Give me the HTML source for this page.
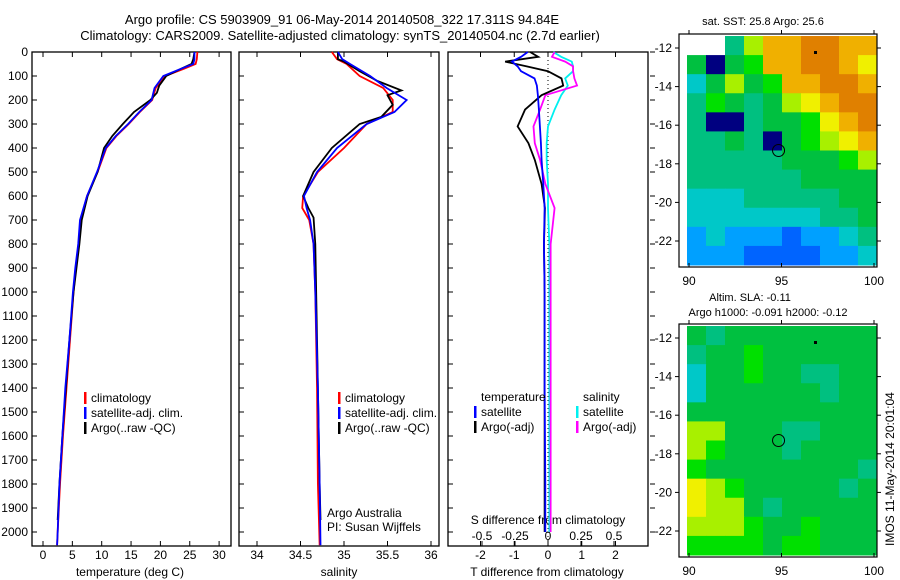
<!DOCTYPE html>
<html><head><meta charset="utf-8"><style>
body{margin:0;background:#fff}
svg{display:block;font-family:"Liberation Sans",sans-serif}
text{font-size:12px;fill:#000}
</style></head><body>
<svg id="c" width="900" height="580" viewBox="0 0 900 580">
<text x="342" y="24" text-anchor="middle" style="font-size:13px">Argo profile: CS 5903909_91 06-May-2014 20140508_322 17.311S 94.84E</text>
<text x="340" y="40" text-anchor="middle" style="font-size:13px">Climatology: CARS2009. Satellite-adjusted climatology: synTS_20140504.nc (2.7d earlier)</text>
<g id="g"></g>
</svg>
<script>
// depth axis
const depthTicks=[0,100,200,300,400,500,600,700,800,900,1000,1100,1200,1300,1400,1500,1600,1700,1800,1900,2000];
// temperature profiles
const tClimD=[0,30,50,70,100,150,200,250,300,350,400,500,600,700,800,900,1000,1200,1400,1600,1800,2000,2055];
const tClimV=[26.3,26.2,26.0,24,20.8,19.2,18.6,16.5,14.6,12.5,10.8,9.3,7.5,6.4,6.1,5.6,5.2,4.6,4.0,3.4,2.9,2.5,2.4];
const tSatV=[25.8,25.8,25.6,23.5,20.5,19.0,18.5,16.4,14.5,12.4,10.7,9.2,7.5,6.3,6.0,5.5,5.1,4.5,3.8,3.3,2.8,2.5,2.4];
const tArgoD=[0,30,50,70,100,140,170,200,250,300,350,400,500,600,700,800,900,1000,1200,1400,1600,1800,1950];
const tArgoV=[25.8,25.6,25.3,23.5,21.0,19.8,19.4,18.3,15.5,13.6,11.8,10.4,9.3,7.6,6.6,6.2,5.7,5.2,4.5,3.9,3.3,2.8,2.5];
// salinity profiles
const sClimD=[0,30,50,100,150,200,250,300,400,500,600,650,700,800,1000,1400,1800,2055];
const sClimV=[34.86,34.92,35.03,35.18,35.45,35.56,35.56,35.26,35.0,34.70,34.53,34.52,34.60,34.65,34.67,34.69,34.70,34.72];
const sSatV=[34.93,34.98,35.07,35.30,35.49,35.72,35.58,35.26,34.92,34.69,34.54,34.57,34.61,34.65,34.67,34.70,34.72,34.73];
const sArgoD=[0,30,40,80,120,160,180,220,270,300,400,500,600,650,690,800,1000,1400,1800,1950];
const sArgoV=[34.93,34.93,35.0,35.18,35.38,35.66,35.50,35.56,35.43,35.18,34.86,34.65,34.53,34.59,34.65,34.67,34.68,34.70,34.72,34.73];
// difference profiles
const dD=[0,20,40,60,80,110,140,180,240,310,380,450,550,650,800,1000,1400,1800,2000];
const dTSat=[-0.6,-0.8,-1.07,-0.9,-0.8,-0.4,-0.33,-0.3,-0.27,-0.24,-0.21,-0.19,-0.14,-0.1,-0.12,-0.1,-0.1,-0.08,-0.08];
const dTArgo=[-0.53,-0.29,-1.27,-0.63,0,0.4,0.45,-0.19,-0.68,-0.9,-0.58,-0.39,-0.19,-0.09,-0.12,-0.1,-0.1,-0.1,-0.1];
const dSSat=[0.04,0.1,0.18,0.19,0.19,0.13,0.15,0.1,0.05,0.0,-0.01,-0.01,0.0,0.0,0.01,0.01,0.01,0.01,0.01];
const dSArgo=[0.05,0.03,0.13,0.19,0.19,0.2,0.22,-0.02,-0.06,-0.11,-0.1,-0.06,-0.02,0.05,0.02,0.02,0.02,0.02,0.02];
const tTicks=[0,5,10,15,20,25,30];
const sTicks=[34,34.5,35,35.5,36];
const dtTicks=[-2,-1,0,1,2];
const dsTicks=[-0.5,-0.25,0,0.25,0.5];
// map grids (colour index)
const sstGrid=[
[-1,-1,4,7,9,9,10,10,9,9],[5,0,5,6,9,9,10,10,9,8],[3,5,7,5,6,9,9,10,10,9],[4,6,5,4,5,7,8,9,10,10],
[4,0,0,4,5,5,6,8,9,10],[4,4,5,4,0,5,6,7,8,9],[4,4,4,4,4,5,5,5,6,7],[4,4,4,4,4,4,5,5,5,5],
[3,3,3,4,4,4,4,4,5,5],[3,3,3,3,3,3,3,4,4,5],[2,3,2,2,2,1,2,2,3,4],[2,2,2,1,1,1,1,2,2,3]];
const slaGrid=[
[5,4,5,5,5,5,5,5,5,5],[4,5,5,6,5,5,5,5,5,5],[3,5,5,6,5,5,4,4,5,5],[3,5,5,5,5,5,5,4,5,5],
[5,5,5,5,5,5,5,5,5,5],[7,7,5,5,5,4,4,5,5,5],[7,6,5,5,5,4,5,5,5,5],[6,5,5,5,5,5,5,5,5,4],
[8,7,6,5,5,5,5,5,4,5],[8,7,7,5,4,5,5,5,5,5],[7,7,7,6,5,5,6,5,5,5],[6,6,6,6,5,6,6,5,5,5]];
const palette=['#000080','#0064ff','#00a0ff','#00c8c8','#00c080','#00c040','#00e000','#a8f000','#f0f000','#f0b000','#e08000'];
const lonTicks=[90,95,100];
const latTicks=[-12,-14,-16,-18,-20,-22];

const NS='http://www.w3.org/2000/svg';
const G=document.getElementById('g');
function mk(tag,attrs,txt,parent){const e=document.createElementNS(NS,tag);for(const k in attrs)e.setAttribute(k,attrs[k]);if(txt!==undefined)e.textContent=txt;(parent||G).appendChild(e);return e;}
const Y=d=>52+d*0.24;
const PB=546;
const xT=v=>43+v*5.87, xS=v=>257+(v-34)*87, xDT=v=>548+v*33.75, xDS=v=>548+v*132;

function panel(x0,x1,name){
  const r=mk('rect',{x:x0,y:52,width:x1-x0,height:PB-52,fill:'none',stroke:'#000','stroke-width':1.3});
  
  
  depthTicks.forEach(d=>{mk('line',{x1:x0,x2:x0+5,y1:Y(d),y2:Y(d),stroke:'#000'});});
}
panel(32,231,'temperature-panel');panel(239,439,'salinity-panel');panel(448,648,'difference-panel');
depthTicks.forEach(d=>{
  const t=mk('text',{x:28,y:Y(d)+4,'text-anchor':'end'},String(d));
  
  
  mk('line',{x1:650,x2:655,y1:Y(d),y2:Y(d),stroke:'#000'});
});
function xticks(arr,fx,y,name,top){
  arr.forEach(v=>{const x=fx(v);
    mk('line',{x1:x,x2:x,y1:PB,y2:PB-5,stroke:'#000'});
    if(top)mk('line',{x1:x,x2:x,y1:52,y2:57,stroke:'#000'});
    const t=mk('text',{x:x,y:y,'text-anchor':'middle'},String(v));
    
    
  });
}
xticks(tTicks,xT,559,'temperature-tick-label',true);
xticks(sTicks,xS,559,'salinity-tick-label',true);
xticks(dtTicks,xDT,559,'t-diff-tick-label',true);
xticks(dsTicks,xDS,540,'s-diff-tick-label',false);
[['temperature (deg C)',130,'temperature-axis-title'],['salinity',339,'salinity-axis-title'],['T difference from climatology',547,'t-diff-axis-title']].forEach(a=>{
  const t=mk('text',{x:a[1],y:576,'text-anchor':'middle'},a[0]);
  
});
let st=mk('text',{x:548,y:524,'text-anchor':'middle'},'S difference from climatology');

mk('line',{x1:548,x2:548,y1:52,y2:PB,stroke:'#000','stroke-dasharray':'1,3'});

function line(ds,vs,fx,col,name){
  const p=mk('polyline',{points:ds.map((d,i)=>fx(vs[i])+','+Y(d)).join(' '),fill:'none',stroke:col,'stroke-width':1.8});
  
  
}
line(tClimD,tClimV,xT,'#f00','temp-climatology-line');
line(tArgoD,tArgoV,xT,'#000','temp-argo-line');
line(tClimD,tSatV,xT,'#00f','temp-satellite-line');
line(sClimD,sClimV,xS,'#f00','sal-climatology-line');
line(sArgoD,sArgoV,xS,'#000','sal-argo-line');
line(sClimD,sSatV,xS,'#00f','sal-satellite-line');
line(dD,dSSat,xDS,'#00f0f0','s-diff-satellite-line');
line(dD,dSArgo,xDS,'#f0f','s-diff-argo-line');
line(dD,dTArgo,xDT,'#000','t-diff-argo-line');
line(dD,dTSat,xDT,'#00f','t-diff-satellite-line');

function legend(x,y,items,name){
  items.forEach((it,i)=>{
    mk('rect',{x:x,y:y+i*15-10,width:2.5,height:12,fill:it[1]});
    const t=mk('text',{x:x+7,y:y+i*15},it[0]);
    
    
  });
}
const L=[['climatology','#f00'],['satellite-adj. clim.','#00f'],['Argo(..raw -QC)','#000']];
legend(84,402,L,'temp-legend');legend(338,402,L,'sal-legend');
let tt=mk('text',{x:481,y:401},'temperature');
let sh=mk('text',{x:583,y:401},'salinity');
legend(474,416,[['satellite','#00f'],['Argo(-adj)','#000']],'t-diff-legend');
legend(576,416,[['satellite','#00f0f0'],['Argo(-adj)','#f0f']],'s-diff-legend');
let a1=mk('text',{x:327,y:517},'Argo Australia');
let a2=mk('text',{x:327,y:531},'PI: Susan Wijffels');

// maps
function map(y0,grid,name){
  const lx=v=>689+(v-90)*18.5, ly=v=>(y0+14)+(-12-v)*19.3;
  const dx0=687,dy0=y0+2,cw=19,ch=(229)/12;
  grid.forEach((row,r)=>row.forEach((v,c)=>{
    if(v<0)return;
    const e=mk('rect',{x:dx0+c*cw,y:dy0+r*ch,width:cw+0.5,height:ch+0.5,fill:palette[v]});
    
    
  }));
  const b=mk('rect',{x:679,y:y0,width:198,height:233,fill:'none',stroke:'#000','stroke-width':1.2});
  
  lonTicks.forEach(v=>{const x=lx(v);mk('line',{x1:x,x2:x,y1:y0,y2:y0-4,stroke:'#000'});mk('line',{x1:x,x2:x,y1:y0+233,y2:y0+229,stroke:'#000'});
    const t=mk('text',{x:x,y:y0+251,'text-anchor':'middle'},String(v));});
  latTicks.forEach(v=>{const y=ly(v);mk('line',{x1:679,x2:675,y1:y,y2:y,stroke:'#000'});mk('line',{x1:877,x2:881,y1:y,y2:y,stroke:'#000'});
    const t=mk('text',{x:672,y:y+4,'text-anchor':'end'},String(v));});
  const c=mk('circle',{cx:lx(94.84),cy:ly(-17.311),r:6,fill:'none',stroke:'#000'});
  
  mk('rect',{x:814,y:y0+17,width:3,height:3,fill:'#000'});
}
map(34,sstGrid,'sst-map');map(324,slaGrid,'sla-map');
let m1=mk('text',{x:763,y:25,'text-anchor':'middle','style':'font-size:11px'},'sat. SST: 25.8 Argo: 25.6');
let m2=mk('text',{x:750,y:301,'text-anchor':'middle','style':'font-size:11px'},'Altim. SLA: -0.11');
let m3=mk('text',{x:768,y:316,'text-anchor':'middle','style':'font-size:11px'},'Argo h1000: -0.091 h2000: -0.12');
let im=mk('text',{x:0,y:0,transform:'translate(894,546) rotate(-90)'},'IMOS 11-May-2014 20:01:04');
</script>
</body></html>
